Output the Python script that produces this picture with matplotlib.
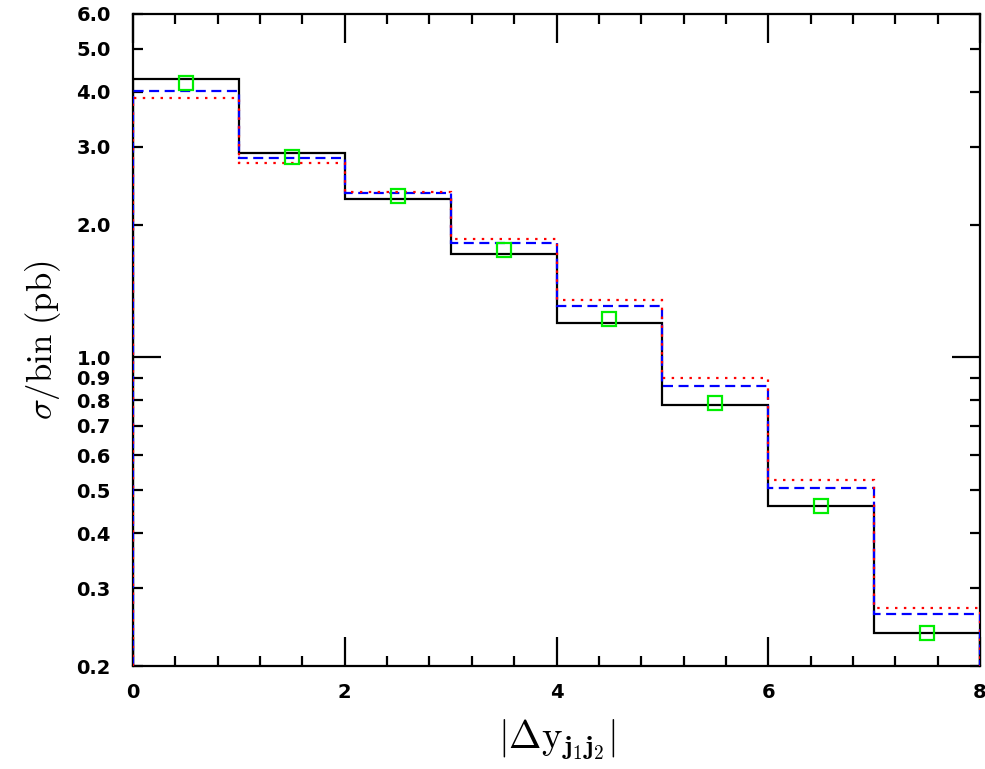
import numpy as np
import matplotlib
matplotlib.use("Agg")
import matplotlib.pyplot as plt
from matplotlib.ticker import FixedLocator, FixedFormatter

plt.rcParams['mathtext.fontset'] = 'cm'

# Data
edges = [0, 1, 2, 3, 4, 5, 6, 7, 8]
centers = [0.5, 1.5, 2.5, 3.5, 4.5, 5.5, 6.5, 7.5]
solid_black = [4.27, 2.90, 2.28, 1.72, 1.20, 0.78, 0.46, 0.237]
dashed_blue = [4.01, 2.83, 2.36, 1.82, 1.31, 0.863, 0.507, 0.262]
dotted_red = [3.88, 2.76, 2.37, 1.86, 1.35, 0.897, 0.529, 0.271]
green_points = [4.18, 2.84, 2.32, 1.75, 1.22, 0.787, 0.46, 0.237]

y_major = [1.0]
y_minor = [0.2, 0.3, 0.4, 0.5, 0.6, 0.7, 0.8, 0.9, 2.0, 3.0, 4.0, 5.0, 6.0]
x_major = [0, 2, 4, 6, 8]
x_minor = [0.4, 0.8, 1.2, 1.6, 2.4, 2.8, 3.2, 3.6, 4.4, 4.8, 5.2, 5.6,
           6.4, 6.8, 7.2, 7.6]

ymin, ymax = 0.2, 6.0

fig = plt.figure(figsize=(9.85, 7.69), dpi=100)
ax = fig.add_axes([133/985, 103/769, 847/985, 652/769])

ax.set_yscale('log')
ax.stairs(solid_black, edges, baseline=ymin, color='black', lw=1.6, zorder=3)
ax.stairs(dashed_blue, edges, baseline=ymin, color='#0000ff', lw=1.6,
          linestyle=(0, (4.5, 2.5)), zorder=4)
ax.stairs(dotted_red, edges, baseline=ymin, color='#ff0000', lw=1.6,
          linestyle=(0, (1.1, 2.9)), zorder=5)
ax.plot(centers, green_points, linestyle='none', marker='s', markersize=10,
        markerfacecolor='none', markeredgecolor='#00ee00', markeredgewidth=1.6,
        zorder=6)

ax.set_xlim(0, 8)
ax.set_ylim(ymin, ymax)

ax.xaxis.set_major_locator(FixedLocator(x_major))
ax.xaxis.set_minor_locator(FixedLocator(x_minor))
ax.set_xticklabels([str(v) for v in x_major])

ax.yaxis.set_major_locator(FixedLocator(y_major))
ax.yaxis.set_major_formatter(FixedFormatter(['%.1f' % v for v in y_major]))
ax.yaxis.set_minor_locator(FixedLocator(y_minor))
ax.yaxis.set_minor_formatter(FixedFormatter(['%.1f' % v for v in y_minor]))

for s in ax.spines.values():
    s.set_linewidth(1.6)

ax.tick_params(axis='both', which='both', direction='in', top=True, right=True,
               width=1.6, labelsize=14, colors='black')
ax.tick_params(axis='x', which='major', length=21, pad=12)
ax.tick_params(axis='x', which='minor', length=7.5)
ax.tick_params(axis='y', which='major', length=20, pad=16)
ax.tick_params(axis='y', which='minor', length=7.5, pad=16)
for lab in ax.get_xticklabels() + ax.get_yticklabels() + \
        ax.get_yticklabels(minor=True):
    lab.set_fontweight('bold')

ax.set_ylabel(r'$\sigma/\mathrm{bin}\ (\mathrm{pb})$', fontsize=25, labelpad=10)
ax.set_xlabel(r'$|\Delta\mathrm{y}_{\mathbf{j}_{\mathbf{1}}\mathbf{j}_{\mathbf{2}}}|$',
              fontsize=28, labelpad=12)

fig.savefig('out.png', dpi=100)
